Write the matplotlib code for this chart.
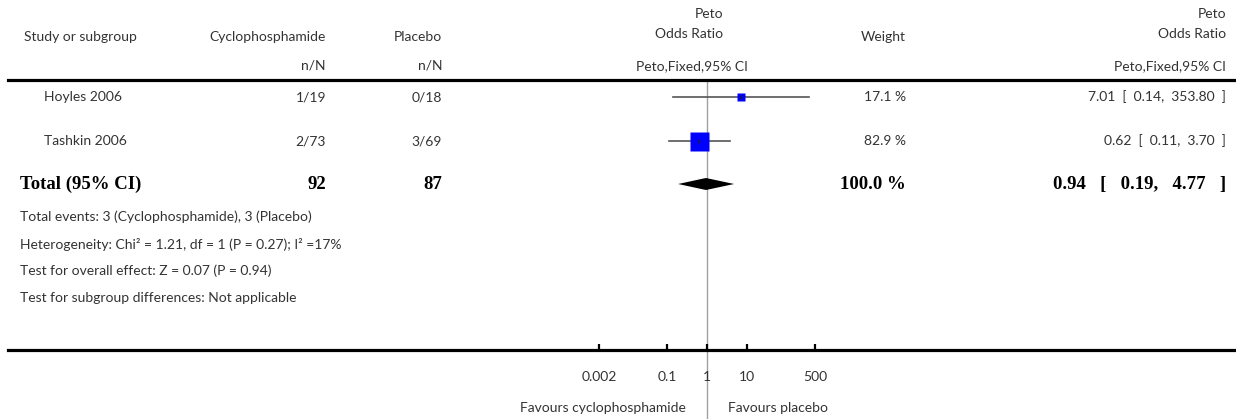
import matplotlib
matplotlib.use("Agg")
import matplotlib.pyplot as plt
from matplotlib.lines import Line2D
import numpy as np

# ---------------- data ----------------
studies = ["Hoyles 2006", "Tashkin 2006"]
treat_nN = ["1/19", "2/73"]
ctrl_nN = ["0/18", "3/69"]
or_est = [7.01, 0.62]
or_lo = [0.14, 0.11]
or_hi = [353.80, 3.70]
weights = [17.1, 82.9]

total_treat = 92
total_ctrl = 87
total_weight = 100.0
total_est = 0.94
total_lo = 0.19
total_hi = 4.77

tick_vals = [0.002, 0.1, 1, 10, 500]
tick_labels = ["0.002", "0.1", "1", "10", "500"]

footer_lines = [
    "Total events: 3 (Cyclophosphamide), 3 (Placebo)",
    "Heterogeneity: Chi² = 1.21, df = 1 (P = 0.27); I² =17%",
    "Test for overall effect: Z = 0.07 (P = 0.94)",
    "Test for subgroup differences: Not applicable",
]

# ---------------- layout ----------------
W, H = 1236, 419
fig = plt.figure(figsize=(W / 100, H / 100), dpi=100)
FONT = "Lato"
SERIF = "Liberation Serif"
TXT = "#333333"


def fx(x):
    return x / W


def fy(y):
    return 1 - y / H


def t(x, y, s, ha="left", size=10, color=TXT, weight="normal", family=FONT):
    fig.text(fx(x), fy(y), s, ha=ha, va="center", fontsize=size,
             color=color, fontweight=weight, family=family)


def ci_text(e, lo, hi, gap):
    sp = " " * gap
    return f"{e:.2f}{sp}[{sp}{lo:.2f},{sp}{hi:.2f}{sp}]"


# header
t(24, 37, "Study or subgroup")
t(326, 37, "Cyclophosphamide", ha="right")
t(442, 37, "Placebo", ha="right")
t(326, 66, "n/N", ha="right")
t(442, 66, "n/N", ha="right")
t(723, 14, "Peto", ha="right")
t(723, 34, "Odds Ratio", ha="right")
t(748, 66, "Peto,Fixed,95% CI", ha="right")
t(906, 37, "Weight", ha="right")
t(1226, 14, "Peto", ha="right")
t(1226, 34, "Odds Ratio", ha="right")
t(1226, 66, "Peto,Fixed,95% CI", ha="right")

row_y = [97, 141]
for i, name in enumerate(studies):
    y = row_y[i]
    t(44, y, name)
    t(326, y, treat_nN[i], ha="right")
    t(442, y, ctrl_nN[i], ha="right")
    t(906, y, f"{weights[i]:.1f} %", ha="right")
    t(1226, y, ci_text(or_est[i], or_lo[i], or_hi[i], 2), ha="right")

ty = 184
BS = 13.5
t(20, ty, "Total (95% CI)", size=BS, color="black", weight="bold", family=SERIF)
t(326, ty, f"{total_treat}", ha="right", size=BS, color="black", weight="bold", family=SERIF)
t(442, ty, f"{total_ctrl}", ha="right", size=BS, color="black", weight="bold", family=SERIF)
t(906, ty, f"{total_weight:.1f} %", ha="right", size=BS, color="black", weight="bold", family=SERIF)
t(1226, ty, ci_text(total_est, total_lo, total_hi, 3), ha="right",
  size=BS, color="black", weight="bold", family=SERIF)

for k, line in enumerate(footer_lines):
    t(20, 217 + 27 * k, line, size=10)

# horizontal rules
fig.add_artist(Line2D([fx(8), fx(1236)], [fy(80), fy(80)], color="black", lw=2.3,
                      transform=fig.transFigure))
fig.add_artist(Line2D([fx(8), fx(1236)], [fy(350), fy(350)], color="black", lw=2.3,
                      transform=fig.transFigure))

# forest axes: 40 px per decade, 1 at x=707
ax_left, ax_right = 587, 827
ax_top, ax_bot = 81, 350
ax = fig.add_axes([fx(ax_left), fy(ax_bot), (ax_right - ax_left) / W, (ax_bot - ax_top) / H])
ax.set_xscale("log")
ax.set_xlim(1e-3, 1e3)
ax.set_ylim(ax_bot, ax_top)
ax.patch.set_alpha(0)
for s in ax.spines.values():
    s.set_visible(False)
ax.set_yticks([])
ax.set_xticks(tick_vals)
ax.set_xticklabels(tick_labels)
ax.minorticks_off()
ax.tick_params(axis="x", direction="in", length=4.5, width=1.6, color="black",
               pad=15, labelsize=10, labelcolor=TXT)
for lab in ax.get_xticklabels():
    lab.set_family(FONT)

ax.axvline(1, ymin=-(H - ax_bot) / (ax_bot - ax_top), ymax=1, color="#a0a0a0",
           lw=1, clip_on=False, zorder=1)

ref_side = 19  # px side for the largest weight
for i in range(len(studies)):
    y = row_y[i]
    ax.plot([or_lo[i], or_hi[i]], [y, y], color="#555555", lw=1.2, zorder=2)
    side = ref_side * np.sqrt(weights[i] / max(weights))
    ax.plot([or_est[i]], [y], marker="s", ms=side * 0.72, color="#0000ff",
            mec="none", zorder=3)
    ax.plot([or_est[i]], [y], marker="|", ms=3, color="#222222", mew=1, zorder=4)

dh = 6
ax.fill([total_lo, total_est, total_hi, total_est], [ty, ty - dh, ty, ty + dh],
        color="black", lw=0, zorder=3)

t(686, 408, "Favours cyclophosphamide", ha="right", size=10)
t(728, 408, "Favours placebo", ha="left", size=10)

fig.savefig("out.png", dpi=100)
